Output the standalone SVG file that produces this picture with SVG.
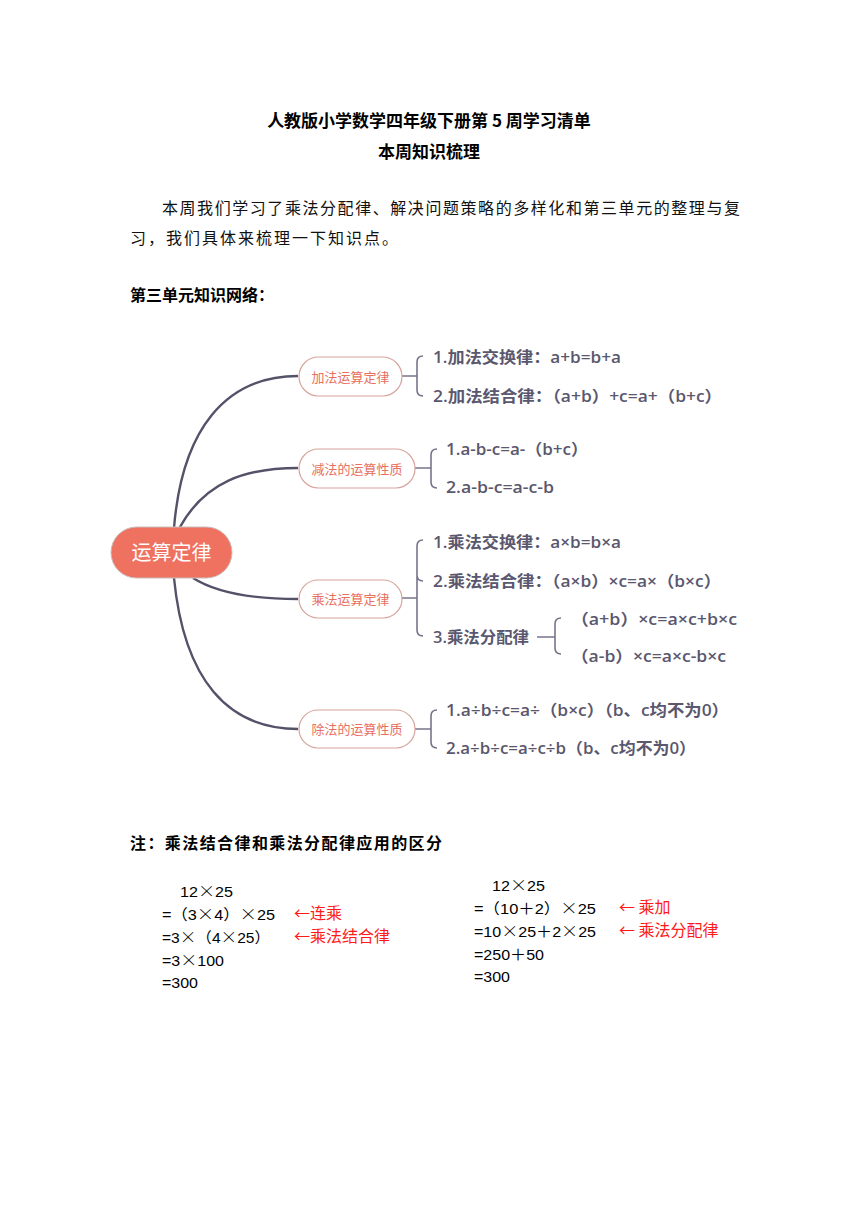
<svg xmlns="http://www.w3.org/2000/svg" width="860" height="1216" viewBox="0 0 860 1216">
<style>
.title{font-family:"Noto Sans CJK SC",sans-serif;font-weight:bold;font-size:17px;fill:#000}
.para{font-family:"Noto Sans CJK SC",sans-serif;font-size:16px;fill:#111}
.hd{font-family:"Noto Sans CJK SC",sans-serif;font-weight:bold;font-size:16px;fill:#000}
.item{font-family:"Open Sans","Noto Sans CJK SC",sans-serif;font-size:16px;font-weight:600;fill:#5a576e}
.bn{font-family:"Noto Sans CJK SC",sans-serif;font-size:13px;fill:#e8705f}
.pill{fill:#fff;stroke:#d7a49c;stroke-width:1.2}
.curve{fill:none;stroke:#545269;stroke-width:2.4}
.brace{fill:none;stroke:#77748a;stroke-width:1.6}
.calc{font-family:"Liberation Sans","Noto Sans CJK SC",sans-serif;font-size:15px;fill:#000}
.x{font-family:"Noto Sans CJK SC",sans-serif;font-size:16px;font-weight:300}
.red{font-family:"Noto Sans CJK SC",sans-serif;font-size:16px;fill:#ff1a1a}
</style>
<rect width="860" height="1216" fill="#fff"/>
<text class="title" x="429" y="127" text-anchor="middle">人教版小学数学四年级下册第 5 周学习清单</text>
<text class="title" x="429" y="158" text-anchor="middle">本周知识梳理</text>
<text class="para" x="162" y="214" textLength="578" lengthAdjust="spacing">本周我们学习了乘法分配律、解决问题策略的多样化和第三单元的整理与复</text>
<text class="para" x="130" y="244" textLength="268" lengthAdjust="spacing">习，我们具体来梳理一下知识点。</text>
<text class="hd" x="130" y="301">第三单元知识网络：</text>

<g id="connectors">
<path class="curve" d="M174,528 C182,430 225,376 298,376"/>
<path class="curve" d="M180,527 C205,482 245,468 298,468"/>
<path class="curve" d="M193,578 C215,592 250,599 298,599"/>
<path class="curve" d="M174,578 C184,680 228,729 298,729"/>
<path class="brace" d="M402,376 H417 M423,356 Q417,356 417,362 V390 Q417,396 423,396"/>
<path class="brace" d="M415,468 H431 M437,449 Q431,449 431,455 V482 Q431,488 437,488"/>
<path class="brace" d="M402,598 H417 M423,540 Q417,540 417,546 V630 Q417,636 423,636 M417,575 Q417,581 423,581"/>
<path class="brace" d="M537,637 H555 M561,618 Q555,618 555,624 V648 Q555,654 561,654"/>
<path class="brace" d="M415,729 H431 M437,710 Q431,710 431,716 V742 Q431,748 437,748"/>
</g>

<g id="root">
<rect x="111" y="527" width="121" height="51" rx="25.5" fill="#ef7261" stroke="#c9bcbc" stroke-width="1"/>
<text x="171.5" y="560" text-anchor="middle" font-family="Noto Sans CJK SC,sans-serif" font-size="20" fill="#fff">运算定律</text>
</g>
<g id="add">
<rect class="pill" x="299" y="357" width="103" height="39" rx="19.5"/>
<text class="bn" x="350.5" y="381.5" text-anchor="middle">加法运算定律</text>
<text class="item" x="433" y="363" textLength="188" lengthAdjust="spacingAndGlyphs">1.加法交换律：a+b=b+a</text>
<text class="item" x="433" y="402" textLength="289" lengthAdjust="spacingAndGlyphs">2.加法结合律：（a+b）+c=a+（b+c）</text>
</g>
<g id="sub">
<rect class="pill" x="299" y="449" width="116" height="39" rx="19.5"/>
<text class="bn" x="357" y="473.5" text-anchor="middle">减法的运算性质</text>
<text class="item" x="446" y="455" textLength="142" lengthAdjust="spacingAndGlyphs">1.a-b-c=a-（b+c）</text>
<text class="item" x="446" y="493" textLength="108" lengthAdjust="spacingAndGlyphs">2.a-b-c=a-c-b</text>
</g>
<g id="mul">
<rect class="pill" x="299" y="580" width="103" height="38" rx="19"/>
<text class="bn" x="350.5" y="604" text-anchor="middle">乘法运算定律</text>
<text class="item" x="433" y="548" textLength="188" lengthAdjust="spacingAndGlyphs">1.乘法交换律：a×b=b×a</text>
<text class="item" x="433" y="587" textLength="288" lengthAdjust="spacingAndGlyphs">2.乘法结合律：（a×b）×c=a×（b×c）</text>
<text class="item" x="433" y="643" textLength="96" lengthAdjust="spacingAndGlyphs">3.乘法分配律</text>
<text class="item" x="571" y="625" textLength="166" lengthAdjust="spacingAndGlyphs">（a+b）×c=a×c+b×c</text>
<text class="item" x="571" y="662" textLength="155" lengthAdjust="spacingAndGlyphs">（a-b）×c=a×c-b×c</text>
</g>
<g id="div">
<rect class="pill" x="299" y="710" width="116" height="38" rx="19"/>
<text class="bn" x="357" y="734" text-anchor="middle">除法的运算性质</text>
<text class="item" x="446" y="716" textLength="283" lengthAdjust="spacingAndGlyphs">1.a÷b÷c=a÷（b×c）（b、c均不为0）</text>
<text class="item" x="446" y="754" textLength="250" lengthAdjust="spacingAndGlyphs">2.a÷b÷c=a÷c÷b（b、c均不为0）</text>
</g>

<text class="hd" x="130" y="849" textLength="312" lengthAdjust="spacing">注：乘法结合律和乘法分配律应用的区分</text>

<g id="calc-left">
<text class="calc" x="180" y="897" textLength="53" lengthAdjust="spacingAndGlyphs">12<tspan class="x">×</tspan>25</text>
<text class="calc" x="162" y="920" textLength="113" lengthAdjust="spacingAndGlyphs">=（3<tspan class="x">×</tspan>4）<tspan class="x">×</tspan>25</text>
<text class="calc" x="162" y="943" textLength="108" lengthAdjust="spacingAndGlyphs">=3<tspan class="x">×</tspan>（4<tspan class="x">×</tspan>25）</text>
<text class="calc" x="162" y="966" textLength="62" lengthAdjust="spacingAndGlyphs">=3<tspan class="x">×</tspan>100</text>
<text class="calc" x="162" y="988" textLength="36" lengthAdjust="spacingAndGlyphs">=300</text>
<text class="red" x="294" y="919">←连乘</text>
<text class="red" x="294" y="942">←乘法结合律</text>
</g>
<g id="calc-right">
<text class="calc" x="492" y="891" textLength="53" lengthAdjust="spacingAndGlyphs">12<tspan class="x">×</tspan>25</text>
<text class="calc" x="474" y="914" textLength="122" lengthAdjust="spacingAndGlyphs">=（10＋2）<tspan class="x">×</tspan>25</text>
<text class="calc" x="474" y="937" textLength="122" lengthAdjust="spacingAndGlyphs">=10<tspan class="x">×</tspan>25＋2<tspan class="x">×</tspan>25</text>
<text class="calc" x="474" y="960" textLength="70" lengthAdjust="spacingAndGlyphs">=250＋50</text>
<text class="calc" x="474" y="982" textLength="36" lengthAdjust="spacingAndGlyphs">=300</text>
<text class="red" x="619" y="913" xml:space="preserve">← 乘加</text>
<text class="red" x="619" y="936" xml:space="preserve">← 乘法分配律</text>
</g>
</svg>
